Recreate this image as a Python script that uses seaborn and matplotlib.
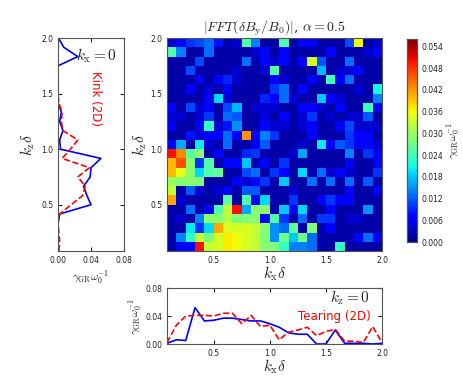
"""Kink / tearing growth-rate spectrum with the two 1D cuts."""

import matplotlib

matplotlib.use("Agg")

import matplotlib.pyplot as plt
import numpy as np
import seaborn as sns

# wavenumber grid (k * delta), 24 edges -> 23 cells
k_edges = [n / 12 for n in range(1, 25)]

# |FFT(dB_y/B_0)| growth rate map, units of 1e-3, rows from kz=2.0 (top) down
fft_rows_milli = [
    [4, 7, 10, 11, 13, 8, 2, 4, 25, 14, 2, 2, 25, 2, 7, 7, 2, 2, 2, 11, 36, 2, 4],
    [25, 14, 2, 2, 13, 2, 2, 2, 2, 4, 7, 2, 7, 2, 2, 2, 2, 7, 2, 2, 2, 4, 7],
    [2, 2, 2, 11, 2, 2, 2, 2, 13, 2, 7, 4, 7, 2, 7, 34, 12, 2, 2, 13, 2, 2, 2],
    [2, 2, 11, 2, 2, 2, 2, 4, 2, 2, 4, 25, 2, 2, 2, 2, 17, 2, 4, 4, 7, 2, 2],
    [2, 2, 2, 7, 2, 7, 9, 4, 2, 2, 2, 7, 4, 2, 2, 7, 2, 24, 7, 13, 2, 2, 2],
    [2, 2, 7, 2, 4, 2, 7, 2, 2, 2, 2, 10, 13, 2, 7, 2, 2, 2, 2, 2, 4, 2, 21],
    [2, 2, 2, 2, 7, 19, 4, 2, 2, 2, 9, 7, 13, 4, 2, 2, 18, 7, 4, 2, 2, 2, 14],
    [7, 2, 11, 4, 7, 2, 11, 17, 2, 4, 4, 4, 2, 2, 7, 7, 4, 2, 7, 2, 2, 24, 7],
    [4, 4, 2, 4, 10, 2, 13, 12, 2, 2, 5, 2, 7, 2, 4, 10, 2, 4, 2, 4, 4, 12, 2],
    [7, 2, 2, 7, 23, 4, 8, 15, 2, 2, 7, 4, 4, 2, 4, 7, 2, 2, 7, 11, 4, 4, 4],
    [2, 2, 8, 4, 7, 7, 13, 7, 42, 7, 14, 10, 2, 2, 2, 7, 2, 2, 2, 10, 7, 7, 2],
    [7, 16, 2, 20, 4, 2, 13, 2, 2, 7, 12, 2, 2, 2, 4, 2, 20, 7, 12, 10, 7, 7, 4],
    [50, 43, 26, 29, 2, 7, 2, 2, 9, 10, 2, 2, 2, 4, 16, 2, 2, 2, 2, 14, 2, 10, 7],
    [40, 46, 29, 10, 25, 2, 7, 7, 18, 2, 7, 2, 10, 2, 2, 2, 2, 2, 2, 7, 2, 2, 7],
    [40, 35, 29, 19, 25, 26, 2, 2, 11, 13, 2, 10, 7, 2, 19, 2, 13, 4, 7, 4, 2, 2, 10],
    [30, 29, 29, 28, 2, 2, 2, 7, 4, 7, 10, 2, 18, 2, 2, 13, 2, 13, 2, 13, 2, 12, 2],
    [33, 2, 12, 4, 2, 4, 7, 2, 12, 12, 2, 2, 2, 4, 2, 2, 2, 2, 2, 7, 2, 2, 7],
    [41, 4, 2, 2, 2, 2, 26, 2, 25, 7, 19, 2, 2, 10, 2, 2, 7, 10, 7, 7, 2, 2, 2],
    [2, 2, 13, 2, 7, 25, 33, 50, 16, 29, 29, 2, 18, 7, 19, 2, 2, 7, 2, 2, 2, 15, 2],
    [2, 4, 2, 14, 29, 29, 32, 28, 28, 29, 7, 25, 10, 2, 13, 2, 10, 10, 2, 4, 4, 2, 2],
    [2, 2, 20, 10, 19, 41, 34, 34, 34, 33, 29, 15, 13, 26, 2, 28, 2, 7, 2, 2, 2, 2, 2],
    [2, 14, 23, 33, 28, 34, 37, 36, 34, 33, 28, 15, 27, 18, 27, 13, 2, 2, 2, 2, 7, 13, 7],
    [2, 7, 7, 50, 33, 34, 37, 36, 34, 33, 29, 28, 23, 14, 14, 13, 2, 2, 23, 2, 2, 2, 2],
]

# kx = 0 cut (kink), growth vs kz
kink_3d = [0.0, 0.0, 0.0, 0.0, 0.002, 0.040, 0.035, 0.031, 0.039, 0.040, 0.052, 0.003,
           0.002, 0.006, 0.002, 0.004, 0.0, 0.0, 0.0, 0.0, 0.0, 0.024, 0.007, 0.0005]
kink_2d = [0.001, 0.002, 0.001, 0.0, 0.002, 0.016, 0.030, 0.033, 0.024, 0.038, 0.005, 0.015,
           0.024, 0.006, 0.004, 0.005, 0.001, 0.0, 0.0, 0.0, 0.0, 0.0, 0.0, 0.0]

# kz = 0 cut (tearing), growth vs kx
tearing_3d = [0.001, 0.006, 0.005, 0.052, 0.033, 0.034, 0.037, 0.037, 0.035, 0.033, 0.033, 0.029,
              0.024, 0.016, 0.014, 0.014, 0.0, 0.0, 0.020, 0.001, 0.001, 0.001, 0.0, 0.001]
tearing_2d = [0.002, 0.027, 0.040, 0.041, 0.041, 0.040, 0.044, 0.044, 0.029, 0.041, 0.025, 0.027,
              0.006, 0.017, 0.020, 0.024, 0.012, 0.018, 0.021, 0.004, 0.004, 0.002, 0.025, 0.002]

k_ticks = [0.5, 1.0, 1.5, 2.0]
cbar_ticks = [0.006 * i for i in range(10)]
growth_ticks = [0.0, 0.04, 0.08]
gamma_label = r"$\gamma_{\rm GR}\omega_0^{-1}$"

sns.set_style("white")
plt.rcParams.update({
    "mathtext.fontset": "cm",
    "axes.edgecolor": "#555555",
    "axes.linewidth": 0.8,
    "xtick.direction": "in",
    "ytick.direction": "in",
    "xtick.top": True,
    "ytick.right": True,
    "xtick.bottom": True,
    "ytick.left": True,
    "xtick.labelsize": 5.5,
    "ytick.labelsize": 5.5,
    "xtick.major.size": 3,
    "ytick.major.size": 3,
    "xtick.color": "#222222",
    "ytick.color": "#222222",
})
plt.rcParams["font.family"] = ["DejaVu Sans"]


def style_frame(ax):
    for spine in ax.spines.values():
        spine.set_visible(True)
        spine.set_color("#555555")
        spine.set_linewidth(0.8)


fig = plt.figure(figsize=(4.63, 3.83), dpi=100)
ax_map = fig.add_axes([0.3607, 0.3446, 0.4644, 0.556])
ax_cb = fig.add_axes([0.879, 0.368, 0.0216, 0.530])
ax_left = fig.add_axes([0.1253, 0.3446, 0.1425, 0.556])
ax_bot = fig.add_axes([0.3607, 0.1018, 0.4644, 0.146])

# main spectrum
fft_map = np.array(fft_rows_milli) * 1e-3
sns.heatmap(fft_map, ax=ax_map, cmap="jet", vmin=0, vmax=0.056, cbar_ax=ax_cb,
            xticklabels=False, yticklabels=False, cbar_kws={"ticks": cbar_ticks})
dk = k_edges[1] - k_edges[0]
ax_map.set_xticks([(t - k_edges[0]) / dk for t in k_ticks])
ax_map.set_xticklabels([f"{t:.1f}" for t in k_ticks])
ax_map.set_yticks([(k_edges[-1] - t) / dk for t in k_ticks])
ax_map.set_yticklabels([f"{t:.1f}" for t in k_ticks])
ax_map.tick_params(axis="both", which="both", direction="in", top=True, right=True,
                   bottom=True, left=True, length=3, color="white")
ax_map.set_xlabel(r"$k_{\rm x}\delta$", fontsize=11, labelpad=0)
ax_map.set_ylabel(r"$k_{\rm z}\delta$", fontsize=11, labelpad=1)
ax_map.set_title(r"$|FFT(\delta B_{\rm y}/B_0)|$, $\alpha=0.5$", fontsize=10, pad=1)
style_frame(ax_map)

ax_cb.yaxis.set_major_formatter(matplotlib.ticker.FormatStrFormatter("%.3f"))
ax_cb.tick_params(labelsize=5.5, length=3, direction="in", color="#222222")
ax_cb.set_ylabel(gamma_label, fontsize=8, labelpad=1)
ax_cb.yaxis.set_label_position("right")
style_frame(ax_cb)

# kx = 0 cut on the left
sns.lineplot(x=kink_3d, y=k_edges, ax=ax_left, orient="y", color="b", linewidth=1.2,
             sort=False)
sns.lineplot(x=kink_2d, y=k_edges, ax=ax_left, orient="y", color="r", linewidth=1.2,
             linestyle="--", sort=False)
ax_left.set_xlim(0, 0.08)
ax_left.set_ylim(k_edges[0], k_edges[-1])
ax_left.set_xticks(growth_ticks)
ax_left.set_xticklabels([f"{t:.2f}" for t in growth_ticks])
ax_left.set_yticks(k_ticks)
ax_left.set_yticklabels([f"{t:.1f}" for t in k_ticks])
ax_left.set_xlabel(gamma_label, fontsize=8, labelpad=3)
ax_left.set_ylabel(r"$k_{\rm z}\delta$", fontsize=11, labelpad=3)
ax_left.text(0.022, 1.84, r"$k_{\rm x}=0$", fontsize=11, va="center")
ax_left.text(0.045, 1.46, "Kink (2D)", color="r", fontsize=8.5, rotation=-90,
             ha="center", va="center")
style_frame(ax_left)

# kz = 0 cut at the bottom
sns.lineplot(x=k_edges, y=tearing_3d, ax=ax_bot, color="b", linewidth=1.2)
sns.lineplot(x=k_edges, y=tearing_2d, ax=ax_bot, color="r", linewidth=1.2, linestyle="--")
ax_bot.set_xlim(k_edges[0], k_edges[-1])
ax_bot.set_ylim(0, 0.08)
ax_bot.set_xticks(k_ticks)
ax_bot.set_xticklabels([f"{t:.1f}" for t in k_ticks])
ax_bot.set_yticks(growth_ticks)
ax_bot.set_yticklabels([f"{t:.2f}" for t in growth_ticks])
ax_bot.set_xlabel(r"$k_{\rm x}\delta$", fontsize=11, labelpad=0)
ax_bot.set_ylabel(gamma_label, fontsize=8, labelpad=1)
ax_bot.text(1.54, 0.066, r"$k_{\rm z}=0$", fontsize=11, va="center")
ax_bot.text(1.25, 0.040, "Tearing (2D)", color="r", fontsize=8.5, va="center")
style_frame(ax_bot)

fig.savefig("out.png", dpi=100)
plt.close(fig)
